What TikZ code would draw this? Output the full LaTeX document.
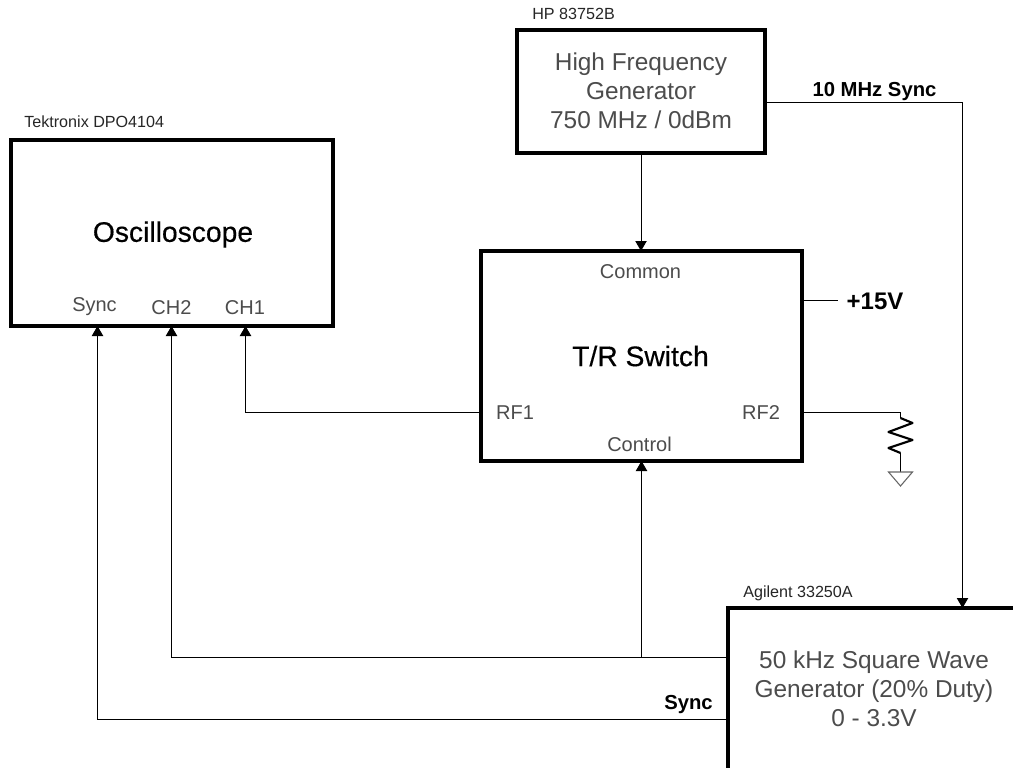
\documentclass[tikz,border=0pt]{standalone}
\usepackage{fontspec}
\setmainfont{Liberation Sans}
\newfontfamily\semifont[FakeBold=0.4]{Liberation Sans}
\usetikzlibrary{arrows.meta}
\definecolor{ink}{HTML}{000000}
\tikzset{x=0.75pt,y=-0.75pt,
 box/.style={draw=ink,line width=2.7pt,anchor=north west,inner sep=0pt,outer sep=0pt},
 wire/.style={draw=ink,line width=0.75pt},
 arr/.style={wire,-{Triangle[length=7.5pt,width=8.5pt]}},
 big/.style={font=\fontsize{18.3}{21.8}\selectfont,align=center,text=black!70},
 title/.style={font=\semifont\fontsize{21.2}{25}\selectfont},
 port/.style={font=\fontsize{15}{18}\selectfont,text=black!70},
 small/.style={font=\fontsize{12.1}{14}\selectfont,anchor=west,inner sep=0pt,text=black!85},
 bold/.style={font=\bfseries\fontsize{15.2}{18}\selectfont}}
\begin{document}
\begin{tikzpicture}
\useasboundingbox (0,0) rectangle (1013,767);
\fill[white] (0,0) rectangle (1013,767);
\node[box,minimum width=322pt*0.75,minimum height=186pt*0.75] (osc) at (11,140) {};
\node[box,minimum width=248pt*0.75,minimum height=123pt*0.75] (hf) at (517,30) {};
\node[box,minimum width=321pt*0.75,minimum height=210pt*0.75] (tr) at (481,251) {};
\node[box,minimum width=300pt*0.75,minimum height=170pt*0.75] (sq) at (728,608) {};
\node[title] (ot) at (173,234.5) {Oscilloscope};
\node[title] (tt) at (640.5,356) {T/R Switch};
\node[big] (ht) at (641,91) {High Frequency\\Generator\\750 MHz / 0dBm};
\node[big] (st) at (874,688.5) {50 kHz Square Wave\\Generator (20\% Duty)\\0 - 3.3V};
\node[small] (l1) at (24,122) {Tektronix DPO4104};
\node[small] (l2) at (532,14) {HP 83752B};
\node[small] (l3) at (743,593) {Agilent 33250A};
\node[port] (psync) at (94.5,307) {Sync};
\node[port] (pch2) at (171.5,308) {CH2};
\node[port] (pch1) at (245,308) {CH1};
\node[port] (pcom) at (640.5,271.5) {Common};
\node[port] (prf1) at (515,412.5) {RF1};
\node[port] (prf2) at (761,412.5) {RF2};
\node[port] (pctl) at (639.5,444) {Control};
\node[bold] (b1) at (874.5,91.5) {10 MHz Sync};
\node[bold] (b2) at (688.5,705) {Sync};
\node[font=\bfseries\fontsize{18}{21}\selectfont] (b3) at (875,301.5) {+15V};
\coordinate (a1) at (245.5,326);
\coordinate (a2) at (171.5,326);
\coordinate (a3) at (97.5,326);
\coordinate (j) at (641.5,657.5);
\coordinate (s) at (641.5,719.5);
\coordinate (hfout) at (962.5,102.5);
\coordinate (t1) at (838,300.5);
\coordinate (rfy) at (641.5,412.5);
\coordinate (rs) at (900.5,412.5);
\coordinate (rt) at (900.5,418);
\coordinate (rb) at (900.5,453);
\coordinate (re) at (900.5,472);
\draw[arr] (hf.south) -- (hf.south |- tr.north);
\draw[arr] (hf.east |- hfout) -- (hfout) -- (hfout |- sq.north);
\draw[wire] (tr.east |- t1) -- (t1);
\draw[arr] (tr.west |- rfy) -- (a1 |- rfy) -- (a1);
\draw[arr] (sq.west |- j) -- (a2 |- j) -- (a2);
\draw[arr] (sq.west |- s) -- (a3 |- s) -- (a3);
\draw[arr] (j) -- (j |- tr.south);
\draw[wire] (tr.east |- rs) -- (rs) -- (rt);
\draw[draw=ink,line width=1.6pt,line join=round] (rt) -- ++(12,5) -- ++(-24,9) -- ++(24,8) -- ++(-24,8) -- (rb);
\draw[wire] (rb) -- (re);
\draw[draw=black!60,line width=0.8pt] (re) ++(-12,0) -- ++(24,0) -- ++(-12,14) -- cycle;
\end{tikzpicture}
\end{document}
